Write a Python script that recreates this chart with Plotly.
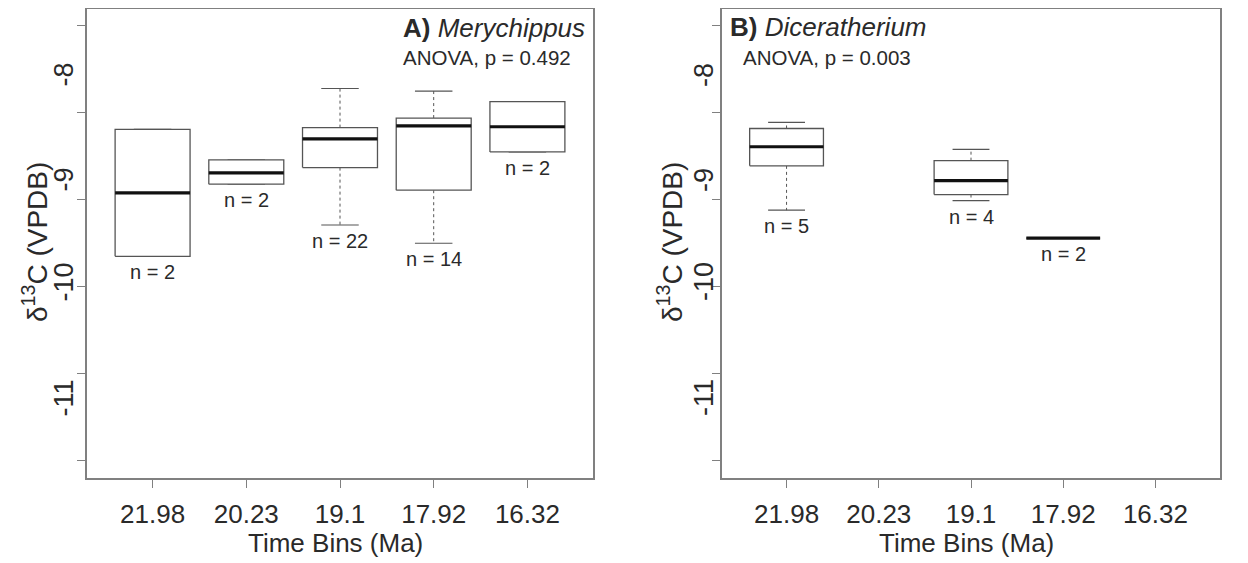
import plotly.graph_objects as go

# ---------------- data ----------------
time_bins = ["21.98", "20.23", "19.1", "17.92", "16.32"]

# A) Merychippus  (box-plot statistics, d13C VPDB)
mery_bins = ["21.98", "20.23", "19.1", "17.92", "16.32"]
mery_low = [-9.65, -8.82, -9.29, -9.50, -8.45]
mery_q1 = [-9.65, -8.82, -8.63, -8.89, -8.45]
mery_med = [-8.92, -8.69, -8.30, -8.15, -8.16]
mery_q3 = [-8.19, -8.54, -8.17, -8.06, -7.87]
mery_high = [-8.19, -8.54, -7.72, -7.75, -7.87]
mery_n = [2, 2, 22, 14, 2]
mery_p = "0.492"

# B) Diceratherium
dic_bins = ["21.98", "19.1", "17.92"]
dic_low = [-9.12, -9.01, -9.44]
dic_q1 = [-8.61, -8.94, -9.44]
dic_med = [-8.39, -8.78, -9.44]
dic_q3 = [-8.18, -8.55, -9.44]
dic_high = [-8.11, -8.42, -9.44]
dic_n = [5, 4, 2]
dic_p = "0.003"

y_ticks = [-7, -8, -9, -10, -11, -12]
y_labels = ["-8", "-9", "-10", "-11"]

# ---------------- style ----------------
PAGE_W, PAGE_H = 1248, 563
OFF = 8  # default body margin of the html page
W, H = PAGE_W - OFF, PAGE_H - OFF
FONT = "Liberation Sans, Arial, sans-serif"
TXT = "#2a2a2a"
FRAME = "#808080"
BOXC = "#555555"
HALF = 0.4
CAP = 0.2

panels = [
    dict(x0=87, x1=593, top=8.5, bottom=478, xa="x", ya="y"),
    dict(x0=722, x1=1220, top=8.5, bottom=478, xa="x2", ya="y2"),
]


def px(X):
    return min(1.0, max(0.0, (X - OFF) / W))


def py(Y):
    return min(1.0, max(0.0, 1 - (Y - OFF) / H))


fig = go.Figure()


def add_boxes(bins, low, q1, med, q3, high, n, xa, ya):
    anns = []
    for b, lo, a, m, c, hi, cnt in zip(bins, low, q1, med, q3, high, n):
        x = time_bins.index(b) + 1
        # whiskers (dashed)
        fig.add_trace(go.Scatter(x=[x, x, None, x, x], y=[c, hi, None, a, lo], mode="lines",
                                 line=dict(color=BOXC, width=1, dash="3px,3px"),
                                 xaxis=xa, yaxis=ya, hoverinfo="skip"))
        # caps
        fig.add_trace(go.Scatter(x=[x - CAP, x + CAP, None, x - CAP, x + CAP],
                                 y=[hi, hi, None, lo, lo], mode="lines",
                                 line=dict(color=BOXC, width=1.2),
                                 xaxis=xa, yaxis=ya, hoverinfo="skip"))
        # box
        fig.add_trace(go.Scatter(x=[x - HALF, x + HALF, x + HALF, x - HALF, x - HALF],
                                 y=[a, a, c, c, a], mode="lines", fill="toself",
                                 fillcolor="white", line=dict(color=BOXC, width=1.3),
                                 xaxis=xa, yaxis=ya, hoverinfo="skip"))
        # median
        fig.add_trace(go.Scatter(x=[x - HALF, x + HALF], y=[m, m], mode="lines",
                                 line=dict(color="#111111", width=3.2),
                                 xaxis=xa, yaxis=ya, hoverinfo="skip"))
        anns.append(dict(x=x, y=lo, xref=xa, yref=ya, text=f"n = {cnt}", showarrow=False,
                         yanchor="top", yshift=-3, font=dict(size=20, color=TXT, family=FONT)))
    return anns


annotations = []
annotations += add_boxes(mery_bins, mery_low, mery_q1, mery_med, mery_q3, mery_high, mery_n, "x", "y")
annotations += add_boxes(dic_bins, dic_low, dic_q1, dic_med, dic_q3, dic_high, dic_n, "x2", "y2")

# y tick labels (placed as in the reference)
label_Y = [75, 180, 282, 398]
label_X = [63.5, 704]
for lx in label_X:
    for lab, ly in zip(y_labels, label_Y):
        annotations.append(dict(x=px(lx), y=py(ly), xref="paper", yref="paper", text=lab,
                                showarrow=False, textangle=-90, xanchor="center", yanchor="middle",
                                font=dict(size=27, color=TXT, family=FONT)))

# axis titles
for p in panels:
    annotations.append(dict(x=px(p["x0"] - 52), y=py(242), xref="paper",
                            yref="paper", text="δ<sup>13</sup>C (VPDB)", showarrow=False, textangle=-90,
                            xanchor="center", yanchor="middle", font=dict(size=28, color=TXT, family=FONT)))
    annotations.append(dict(x=px((p["x0"] + p["x1"]) / 2 - 5), y=py(543), xref="paper", yref="paper",
                            text="Time Bins (Ma)", showarrow=False, xanchor="center", yanchor="middle",
                            font=dict(size=26, color=TXT, family=FONT)))

# panel titles
annotations += [
    dict(x=px(401), y=py(28), xref="paper", yref="paper", text="<b>A)</b> <i>Merychippus</i>",
         showarrow=False, xanchor="left", yanchor="middle", font=dict(size=26, color=TXT, family=FONT)),
    dict(x=px(401), y=py(58), xref="paper", yref="paper", text=f"ANOVA, p = {mery_p}",
         showarrow=False, xanchor="left", yanchor="middle", font=dict(size=20.5, color=TXT, family=FONT)),
    dict(x=px(728), y=py(27), xref="paper", yref="paper", text="<b>B)</b> <i>Diceratherium</i>",
         showarrow=False, xanchor="left", yanchor="middle", font=dict(size=26, color=TXT, family=FONT)),
    dict(x=px(741), y=py(58), xref="paper", yref="paper", text=f"ANOVA, p = {dic_p}",
         showarrow=False, xanchor="left", yanchor="middle", font=dict(size=20.5, color=TXT, family=FONT)),
]

xaxis_common = dict(range=[0.3, 5.7], tickvals=list(range(1, len(time_bins) + 1)), ticktext=time_bins,
                    ticks="outside", ticklen=8, tickcolor=FRAME, tickwidth=1.3, showline=True,
                    linecolor=FRAME, linewidth=1.5, mirror=True, showgrid=False, zeroline=False,
                    tickfont=dict(size=26, color=TXT, family=FONT), ticklabelstandoff=4,
                    fixedrange=True)
yaxis_common = dict(range=[-12.2, -6.8], tickvals=y_ticks, showticklabels=False,
                    ticks="outside", ticklen=8, tickcolor=FRAME, tickwidth=1.3, showline=True,
                    linecolor=FRAME, linewidth=1.5, mirror=True, showgrid=False, zeroline=False,
                    fixedrange=True)

p0, p1 = panels
fig.update_layout(
    width=W, height=H,
    margin=dict(l=0, r=0, t=0, b=0),
    paper_bgcolor="white", plot_bgcolor="white",
    showlegend=False, hovermode=False,
    xaxis=dict(domain=[px(p0["x0"]), px(p0["x1"])], anchor="y", **xaxis_common),
    yaxis=dict(domain=[py(p0["bottom"]), py(p0["top"])], anchor="x", **yaxis_common),
    xaxis2=dict(domain=[px(p1["x0"]), px(p1["x1"])], anchor="y2", **xaxis_common),
    yaxis2=dict(domain=[py(p1["bottom"]), py(p1["top"])], anchor="x2", **yaxis_common),
    annotations=annotations,
    font=dict(family=FONT, color=TXT),
)

fig.write_html("out.html")
